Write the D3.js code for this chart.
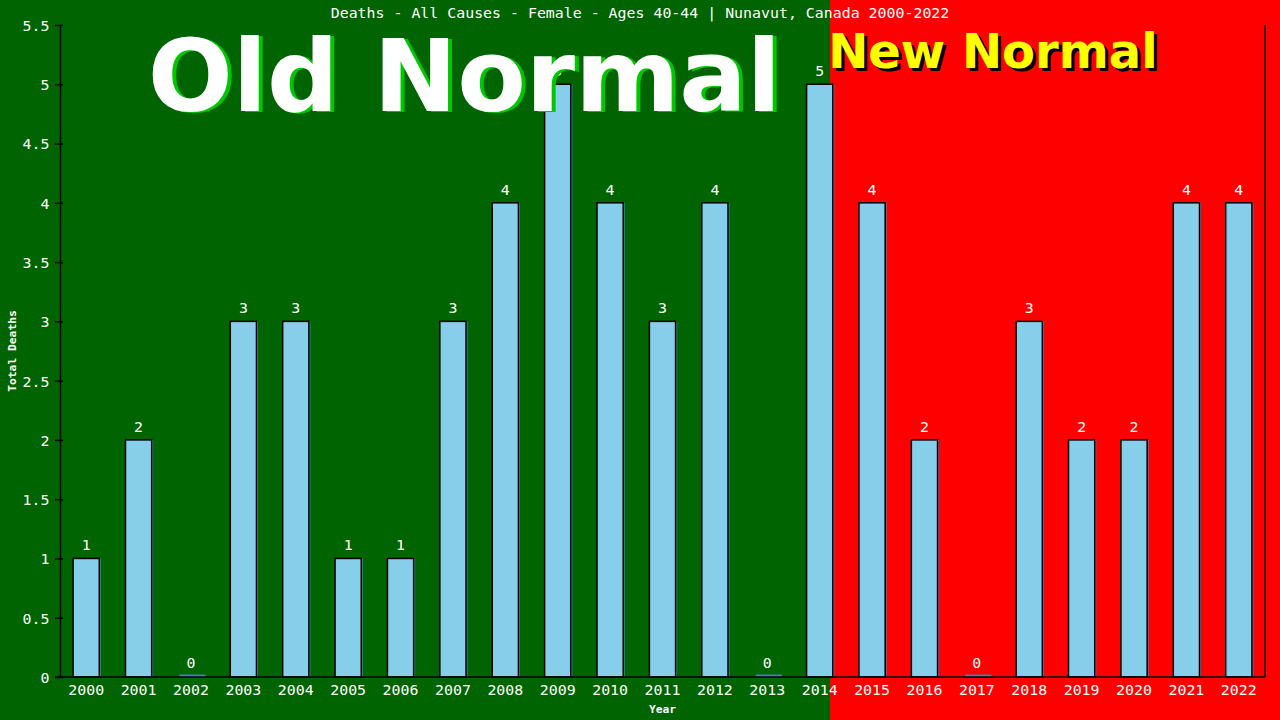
<!DOCTYPE html>
<html><head><meta charset="utf-8">
<script src="https://cdn.jsdelivr.net/npm/d3@7"></script>
<style>
html,body{margin:0;padding:0;background:#006400;}
svg{display:block;}
</style>
</head><body>
<svg id="chart" width="1280" height="720"></svg>
<script>
const years = ["2000","2001","2002","2003","2004","2005","2006","2007","2008","2009","2010","2011","2012","2013","2014","2015","2016","2017","2018","2019","2020","2021","2022"];
const deaths = [1,2,0,3,3,1,1,3,4,5,4,3,4,0,5,4,2,0,3,2,2,4,4];
const yTicks = [0,0.5,1,1.5,2,2.5,3,3.5,4,4.5,5,5.5];
const titleText = "Deaths - All Causes - Female - Ages 40-44 | Nunavut, Canada 2000-2022";
const oldLabel = "Old Normal";
const newLabel = "New Normal";
const lastOldYear = "2014";

const W = 1280, H = 720;
const m = {left:60, right:15, top:25, bottom:43};
const svg = d3.select("#chart");
const mono = "'DejaVu Sans Mono', monospace";
const fs = 14.9;

const x = d3.scaleBand().domain(years).range([m.left, W - m.right]).paddingInner(0.5).paddingOuter(0.25);
const y = d3.scaleLinear().domain([0, 5.5]).range([H - m.bottom, m.top]);

const split = x(lastOldYear) + x.step() * 0.445;

// backgrounds
svg.append("rect").attr("x",0).attr("y",0).attr("width",split).attr("height",H).attr("fill","#006400");
svg.append("rect").attr("x",split).attr("y",0).attr("width",W-split).attr("height",H).attr("fill","#ff0000");

// title
svg.append("text").attr("x", W/2).attr("y", 18.3).attr("text-anchor","middle")
  .attr("font-family", mono).attr("font-size", fs).attr("fill","#fff").text(titleText);

const data = years.map((yr,i)=>({yr, v:deaths[i]}));

// bar shadows
svg.append("g").selectAll("rect").data(data).join("rect")
  .attr("x", d => x(d.yr) + 1.5)
  .attr("y", d => y(d.v) - (d.v === 0 ? 2.5 : 0))
  .attr("width", x.bandwidth())
  .attr("height", d => y(0) - y(d.v) + (d.v === 0 ? 2.5 : 0))
  .attr("fill", "#4682b4");

// bars
svg.append("g").selectAll("rect").data(data.filter(d=>d.v>0)).join("rect")
  .attr("x", d => x(d.yr))
  .attr("y", d => y(d.v))
  .attr("width", x.bandwidth())
  .attr("height", d => y(0) - y(d.v))
  .attr("fill", "#87ceeb")
  .attr("stroke", "#000").attr("stroke-width", 1.5);

// value labels
svg.append("g").selectAll("text").data(data).join("text")
  .attr("x", d => x(d.yr) + x.bandwidth()/2)
  .attr("y", d => y(d.v) - (d.v === 0 ? 9 : 8))
  .attr("text-anchor","middle")
  .attr("font-family", mono).attr("font-size", fs).attr("fill","#fff")
  .text(d => d.v);

// axes
const yAxis = svg.append("g").attr("transform", `translate(${m.left},0)`)
  .call(d3.axisLeft(y).tickValues(yTicks).tickFormat(d3.format("~g")).tickSizeInner(5).tickSizeOuter(0).tickPadding(6));
yAxis.select(".domain").attr("stroke","#000").attr("stroke-width",1.5);
yAxis.selectAll(".tick line").attr("stroke","#000").attr("stroke-width",1.5).attr("x2",-5).attr("x1",3);
yAxis.selectAll(".tick text").attr("fill","#fff").attr("font-family",mono).attr("font-size",fs).attr("dy","0.36em").attr("x",-10.5);

const xAxis = svg.append("g").attr("transform", `translate(0,${y(0)})`)
  .call(d3.axisBottom(x).tickSize(0).tickPadding(18));
xAxis.select(".domain").attr("stroke","#000").attr("stroke-width",1.5).attr("d", `M${m.left-5},0H${W-m.right}`);
xAxis.selectAll(".tick text").attr("fill","#fff").attr("font-family",mono).attr("font-size",fs).attr("dy","0");

// right border line
svg.append("line").attr("x1", W-m.right).attr("x2", W-m.right).attr("y1", y(5.5)).attr("y2", y(0))
  .attr("stroke","#000").attr("stroke-width",1.5);

// axis titles
svg.append("text").attr("x", (m.left + W - m.right)/2).attr("y", 712.7).attr("text-anchor","middle")
  .attr("font-family", mono).attr("font-weight","bold").attr("font-size", 11.3).attr("fill","#fff").text("Year");
svg.append("text").attr("transform", `translate(16,${(y(0)+y(5.5))/2}) rotate(-90)`).attr("text-anchor","middle")
  .attr("font-family", mono).attr("font-weight","bold").attr("font-size", 11.3).attr("fill","#fff").text("Total Deaths");

// Old Normal / New Normal
const oldX = (m.left + split) / 2 + 19.5;
svg.append("text").attr("x", oldX + 4).attr("y", 112).attr("text-anchor","middle")
  .attr("font-family","'DejaVu Sans', Verdana, sans-serif").attr("font-weight","bold").attr("font-size",100)
  .attr("fill","#00c800").text(oldLabel);
svg.append("text").attr("x", oldX).attr("y", 111).attr("text-anchor","middle")
  .attr("font-family","'DejaVu Sans', Verdana, sans-serif").attr("font-weight","bold").attr("font-size",100)
  .attr("fill","#fff").text(oldLabel);

const newX = split + 163;
svg.append("text").attr("x", newX + 3).attr("y", 71).attr("text-anchor","middle")
  .attr("font-family","'DejaVu Sans', Verdana, sans-serif").attr("font-weight","bold").attr("font-size",48)
  .attr("fill","#000").text(newLabel);
svg.append("text").attr("x", newX).attr("y", 68).attr("text-anchor","middle")
  .attr("font-family","'DejaVu Sans', Verdana, sans-serif").attr("font-weight","bold").attr("font-size",48)
  .attr("fill","#ffff00").text(newLabel);
</script>
</body></html>
